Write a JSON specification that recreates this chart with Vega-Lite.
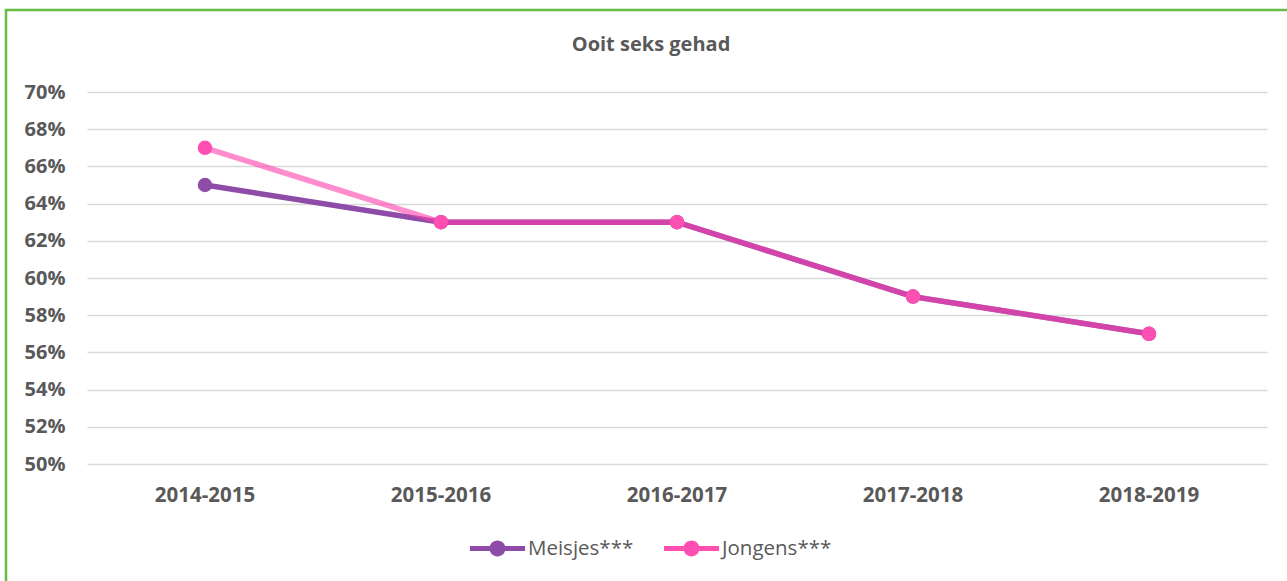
{
  "$schema": "https://vega.github.io/schema/vega-lite/v6.json",
  "autosize": {"type": "none"},
  "padding": {"left": 6, "top": 10, "right": 0, "bottom": 0},
  "width": 1300,
  "height": 600,
  "background": "white",
  "title": {
    "text": "Ooit seks gehad",
    "anchor": "middle",
    "frame": "group",
    "offset": -55,
    "baseline": "middle",
    "dx": -5,
    "font": "Open Sans",
    "fontSize": 20,
    "fontWeight": "bold",
    "color": "#595959"
  },
  "data": {
    "values": [
      {"jaar": "2014-2015", "serie": "Meisjes***", "waarde": 0.65},
      {"jaar": "2015-2016", "serie": "Meisjes***", "waarde": 0.63},
      {"jaar": "2016-2017", "serie": "Meisjes***", "waarde": 0.63},
      {"jaar": "2017-2018", "serie": "Meisjes***", "waarde": 0.59},
      {"jaar": "2018-2019", "serie": "Meisjes***", "waarde": 0.57},
      {"jaar": "2014-2015", "serie": "Jongens***", "waarde": 0.67},
      {"jaar": "2015-2016", "serie": "Jongens***", "waarde": 0.63},
      {"jaar": "2016-2017", "serie": "Jongens***", "waarde": 0.63},
      {"jaar": "2017-2018", "serie": "Jongens***", "waarde": 0.59},
      {"jaar": "2018-2019", "serie": "Jongens***", "waarde": 0.57}
    ]
  },
  "encoding": {
    "x": {
      "field": "jaar",
      "type": "ordinal",
      "title": null,
      "scale": {"type": "band", "range": [81, 1261], "paddingInner": 0, "paddingOuter": 0},
      "axis": {
        "offset": -146,
        "domain": false,
        "ticks": false,
        "labelPadding": 21,
        "labelAngle": 0,
        "labelFont": "Open Sans",
        "labelFontSize": 20.5,
        "labelFontWeight": "bold",
        "labelColor": "#595959",
        "grid": false
      }
    },
    "y": {
      "field": "waarde",
      "type": "quantitative",
      "title": null,
      "scale": {"domain": [0.5, 0.7], "range": [454, 82], "nice": false, "zero": false},
      "axis": {
        "values": [0.5, 0.52, 0.54, 0.56, 0.58, 0.6, 0.62, 0.64, 0.66, 0.68, 0.7],
        "format": ".0%",
        "offset": -59,
        "domain": false,
        "ticks": false,
        "labelPadding": 0,
        "labelFont": "Open Sans",
        "labelFontSize": 20,
        "labelFontWeight": "bold",
        "labelColor": "#595959",
        "grid": true,
        "gridColor": "#d9d9d9",
        "gridWidth": 1.5
      }
    }
  },
  "layer": [
    {
      "transform": [{"filter": "datum.serie === 'Meisjes***'"}],
      "mark": {"type": "line", "color": "#8E4BA8", "strokeWidth": 5.5, "strokeCap": "round"}
    },
    {
      "transform": [{"filter": "datum.serie === 'Jongens***'"}],
      "mark": {"type": "line", "color": "#FF3FAA", "opacity": 0.6, "strokeWidth": 5.5, "strokeCap": "round"}
    },
    {
      "mark": {"type": "point", "shape": "circle", "filled": true, "opacity": 1, "size": 210},
      "encoding": {
        "color": {
          "field": "serie",
          "type": "nominal",
          "scale": {"domain": ["Meisjes***", "Jongens***"], "range": ["#8E4BA8", "#FF4FB0"]},
          "legend": {
            "title": null,
            "orient": "none",
            "legendX": 464,
            "legendY": 511,
            "direction": "horizontal",
            "symbolType": "M -1 -0.09 H 1 V 0.09 H -1 Z M 0.29 0 A 0.29 0.29 0 1 1 -0.29 0 A 0.29 0.29 0 1 1 0.29 0 Z",
            "symbolSize": 3025,
            "symbolStrokeWidth": 0,
            "labelFont": "Open Sans",
            "labelFontSize": 20.5,
            "labelColor": "#595959",
            "labelOffset": 3,
            "columnPadding": 30
          }
        }
      }
    }
  ],
  "config": {
    "view": {"stroke": "#66BB44", "strokeWidth": 2.5}
  }
}
